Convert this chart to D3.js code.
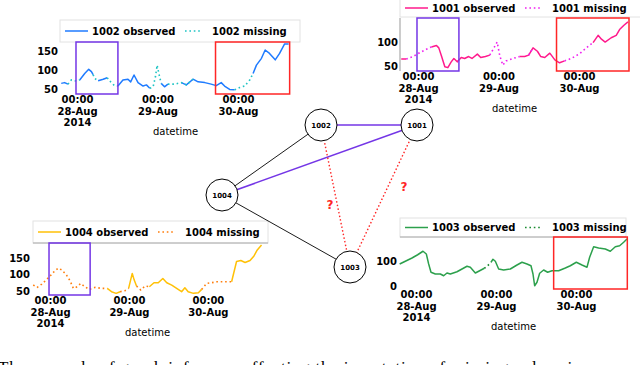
<!DOCTYPE html>
<html>
<head>
<meta charset="utf-8">
<script src="https://cdn.jsdelivr.net/npm/d3@7"></script>
<style>
  body { margin: 0; background: #fff; }
  svg { display: block; font-family: "DejaVu Sans", sans-serif; }
</style>
</head>
<body>
<div id="chart"></div>
<script>
// ---- data (hours since 28-Aug-2014 00:00) ----
var sensors = ["1002", "1001", "1004", "1003"];

var hours1002 = [-4.7,-3.7,-2.7,-1.7,-0.2,0.8,2.3,3.5,4.3,4.8,5.3,6.3,7.8,9.0,10.2,11.2,12.2,13.7,15.2,16,17,18.2,19.7,20.7,21.7,22.7,23.4,23.9,24.4,25.1,26.1,27.1,29.1,31.1,32.6,34.6,36.1,38.1,40,41.5,43,44,45.5,47,48.5,50,51.5,52.5,53.5,55,56.1,57.4,59.1,60.4,61.9,63.1];
var vals1002  = [65,67,63,74,71,74,91,102,96,88,78,72,76,80,67,59,58,74,76,69,87,67,58,61,52,56,83,113,91,65,56,63,63,67,61,76,69,67,63,59,67,58,49,48,54,58,74,91,113,131,153,144,127,144,169,169];
var miss1002  = [[-2.7,0.8],[4.8,6.3],[9.0,12.2],[21.7,25.1],[27.1,31.1],[32.6,34.6],[47,52.5]];

var hours1001 = [-5.0,-3.5,-1.5,0.5,2.5,4.0,5.5,6.2,7.0,8.0,8.9,9.9,10.7,11.7,12.9,13.9,15.1,16.1,17.7,18.7,20.1,21.4,22.4,23.6,24.4,25.3,26.3,28.3,30.3,31.8,33,34.3,35.6,36.6,37.8,39.3,40.8,42.2,43.7,45.7,48.2,50.2,52.2,53.7,54.7,55.8,57.6,59.1,60.1,61.4,62.6];
var vals1001  = [65,65,70,78,85,90,93,88,71,49,47,59,66,59,68,66,70,66,75,68,70,73,85,100,71,52,61,66,70,70,73,88,81,70,68,77,63,57,61,66,76,88,99,114,106,100,109,114,126,135,142];
var miss1001  = [[-3.5,4.0],[21.4,30.3],[33,34.3],[43.7,52.2]];

var hours1004 = [-5.1,-3.9,-2.5,-1.2,0,1.2,2.5,3.5,4.9,6.1,7.1,8.3,9.3,10.6,11.9,13.7,15.7,17.4,18.7,20.1,21.3,22.8,23.9,24.5,25,25.6,26.3,27.6,28.9,30.2,31.6,32.9,34.3,35.5,37,38.5,40,41,42,43.6,45.1,46.1,47.6,49.1,50.7,52.5,54.2,55.2,56.7,58,59.3,60.8,62,63,64.3];
var vals1004  = [68,61,71,83,95,108,119,114,100,81,58,63,73,63,55,61,58,58,48,43,48,51,58,83,103,83,65,53,65,63,75,75,88,75,68,58,48,60,48,43,45,55,73,75,78,78,78,78,139,142,136,142,156,174,189];
var miss1004  = [[-5.1,17.4],[21.3,23.9],[26.3,30.2],[46.1,55.2]];

var hours1003 = [-4.9,-3.2,-1.2,0.5,2.1,3.1,3.8,4.5,5.8,7.3,8.3,9.3,10.3,12.3,13.8,15.3,16.3,17.8,19.1,20.5,21.5,22.5,23.1,23.8,24.8,26.3,28.3,30.3,31.8,33.3,34.5,35.1,35.6,36.3,37.1,38.3,39.5,40.8,42.8,44.8,46.3,48.1,49.8,51.3,52.1,53.3,54.8,56.8,58.3,59.8,61.1,62.3,63.3];
var vals1003  = [88,99,112,125,139,128,88,55,48,48,41,52,48,57,68,79,75,52,61,71,81,95,107,99,68,64,68,84,95,88,81,48,1,15,51,64,55,61,61,72,81,95,84,75,115,157,152,148,139,157,161,175,188];
var miss1003  = [[20.5,22.5]];

var yTicks = { "1002": [50,100,150], "1001": [50,100], "1004": [50,100,150], "1003": [0,100] };
var tickDays = ["2014-08-28", "2014-08-29", "2014-08-30"];
var purpleWindow = [-0.3, 12.2];
var redWindow = [41.3, 63.4];

var edges = [
  ["1002", "1001", "known"],
  ["1004", "1001", "known"],
  ["1004", "1002", "plain"],
  ["1004", "1003", "plain"],
  ["1002", "1003", "unknown"],
  ["1001", "1003", "unknown"]
];

// ---- colours & layout ----
var colors = {
  "1002": {obs: "#1f7bff", mis: "#1fc4c4"},
  "1001": {obs: "#ff1a8c", mis: "#f020f0"},
  "1004": {obs: "#ffc107", mis: "#ff7f0e"},
  "1003": {obs: "#2ca04c", mis: "#1a8a30"}
};
var purple = "#7436e6", red = "#ff2626";

var panels = {
  "1002": {left: 61, right: 290, top: 42, bottom: 94, x0: 77, pxh: 3.354, ydom: [37,174],
           legend: [60, 20, 240, 22], hours: hours1002, vals: vals1002, miss: miss1002, boxes: ["p","r"], spine: "none"},
  "1001": {left: 401, right: 628, top: 18, bottom: 71, x0: 418, pxh: 3.354, ydom: [40,150],
           legend: [400, -1, 241, 18], hours: hours1001, vals: vals1001, miss: miss1001, boxes: ["p","r"], spine: "left"},
  "1004": {left: 33, right: 262, top: 243, bottom: 295, x0: 50, pxh: 3.29, ydom: [38,195],
           legend: [33, 221, 235, 22], hours: hours1004, vals: vals1004, miss: miss1004, boxes: ["p"], spine: "top"},
  "1003": {left: 400, right: 627, top: 237, bottom: 289, x0: 416, pxh: 3.333, ydom: [-12,196],
           legend: [400, 218, 226, 19], hours: hours1003, vals: vals1003, miss: miss1003, boxes: ["r"], spine: "top"}
};

var nodePos = { "1002": [321,125], "1001": [417,125], "1004": [222,195], "1003": [350,267] };

var W = 640, H = 365;
var base = new Date(2014, 7, 28).getTime();
function hDate(h) { return new Date(base + h * 3600e3); }
var parseDay = d3.timeParse("%Y-%m-%d");

var svg = d3.select("#chart").append("svg")
  .attr("width", W).attr("height", H);

// ---- time series panels ----
sensors.forEach(function(id) {
  var p = panels[id];
  var x = d3.scaleTime()
    .domain([hDate((p.left - p.x0) / p.pxh), hDate((p.right - p.x0) / p.pxh)])
    .range([p.left, p.right]);
  var y = d3.scaleLinear().domain(p.ydom).range([p.bottom, p.top]);
  var g = svg.append("g");

  if (p.spine == "left") {
    g.append("line").attr("x1", p.left - 1).attr("x2", p.left - 1)
      .attr("y1", p.top).attr("y2", p.bottom).attr("stroke", "#999").attr("stroke-width", 1);
  }

  // legend box
  var lg = p.legend;
  g.append("rect").attr("x", lg[0]).attr("y", lg[1]).attr("width", lg[2]).attr("height", lg[3])
    .attr("fill", "#fff").attr("stroke", "#e2e2e2");
  if (p.spine == "top") {
    g.append("line").attr("x1", p.left).attr("x2", lg[0] + lg[2]).attr("y1", p.top).attr("y2", p.top)
      .attr("stroke", "#aaa");
  }
  var ly = lg[1] + lg[3] / 2;
  g.append("line").attr("x1", lg[0] + 5).attr("x2", lg[0] + 28).attr("y1", ly).attr("y2", ly)
    .attr("stroke", colors[id].obs).attr("stroke-width", 1.5);
  g.append("text").attr("x", lg[0] + 32).attr("y", ly + 3.5)
    .attr("font-size", 10).attr("font-weight", "bold").text(id + " observed");
  g.append("line").attr("x1", lg[0] + 125).attr("x2", lg[0] + 142).attr("y1", ly).attr("y2", ly)
    .attr("stroke", colors[id].mis).attr("stroke-width", 1.6).attr("stroke-dasharray", "1.6,2.8");
  g.append("text").attr("x", lg[0] + 152).attr("y", ly + 3.5)
    .attr("font-size", 10).attr("font-weight", "bold").text(id + " missing");

  // series
  var pts = p.hours.map(function(h, i) { return {h: h, v: p.vals[i]}; });
  function inside(h, strict) {
    return p.miss.some(function(m) { return strict ? (h > m[0] && h < m[1]) : (h >= m[0] && h <= m[1]); });
  }
  var line = d3.line().x(function(d) { return x(hDate(d.h)); }).y(function(d) { return y(d.v); });
  g.append("path").datum(pts)
    .attr("d", line.defined(function(d) { return !inside(d.h, true); }))
    .attr("fill", "none").attr("stroke", colors[id].obs).attr("stroke-width", 1.5)
    .attr("stroke-linejoin", "round");
  g.append("path").datum(pts)
    .attr("d", line.defined(function(d) { return inside(d.h, false); }))
    .attr("fill", "none").attr("stroke", colors[id].mis).attr("stroke-width", 1.6)
    .attr("stroke-dasharray", "1.6,2.8");

  // highlight windows
  p.boxes.forEach(function(b) {
    var w = b == "p" ? purpleWindow : redWindow;
    var x1 = Math.max(p.left, x(hDate(w[0]))), x2 = Math.min(p.right + 1, x(hDate(w[1])));
    g.append("rect").attr("x", x1).attr("y", p.top).attr("width", x2 - x1).attr("height", p.bottom - p.top)
      .attr("fill", "none").attr("stroke", b == "p" ? purple : red).attr("stroke-width", 1.5);
  });

  // axes
  var ya = g.append("g").attr("transform", "translate(" + p.left + ",0)")
    .call(d3.axisLeft(y).tickValues(yTicks[id]).tickSize(0).tickPadding(3));
  ya.select(".domain").remove();
  ya.selectAll("text").attr("font-size", 10).attr("font-weight", "bold")
    .attr("font-family", "DejaVu Sans").attr("fill", "#000");

  var days = tickDays.map(parseDay);
  var xa = g.append("g").attr("transform", "translate(0," + p.bottom + ")")
    .call(d3.axisBottom(x).tickValues(days).tickSize(0).tickPadding(0).tickFormat(""));
  xa.select(".domain").remove();
  xa.selectAll(".tick text").each(function(d, i) {
    var t = d3.select(this).attr("y", 0).attr("dy", null)
      .attr("font-size", 10).attr("font-weight", "bold").attr("font-family", "DejaVu Sans").attr("fill", "#000");
    var lines = [d3.timeFormat("%H:%M")(d), d3.timeFormat("%d-%b")(d)];
    if (i == 0) lines.push(d3.timeFormat("%Y")(d));
    lines.forEach(function(s, k) {
      t.append("tspan").attr("x", 0).attr("y", 9 + k * 11.5).text(s);
    });
  });
  g.append("text").attr("x", (p.left + p.right) / 2).attr("y", p.bottom + 41)
    .attr("text-anchor", "middle").attr("font-size", 10).text("datetime");
});

// ---- sensor graph ----
var eg = svg.append("g");
edges.forEach(function(e) {
  var a = nodePos[e[0]], b = nodePos[e[1]];
  var l = eg.append("line").attr("x1", a[0]).attr("y1", a[1]).attr("x2", b[0]).attr("y2", b[1]);
  if (e[2] == "known") l.attr("stroke", purple).attr("stroke-width", 1.6);
  else if (e[2] == "plain") l.attr("stroke", "#000").attr("stroke-width", 0.9);
  else l.attr("stroke", red).attr("stroke-width", 1.4).attr("stroke-dasharray", "1.5,2.2");
});
svg.append("text").attr("x", 330).attr("y", 209).attr("text-anchor", "middle")
  .attr("font-size", 12).attr("font-weight", "bold").attr("fill", red).text("?");
svg.append("text").attr("x", 404).attr("y", 191).attr("text-anchor", "middle")
  .attr("font-size", 12).attr("font-weight", "bold").attr("fill", red).text("?");

var ng = svg.selectAll(".node").data(sensors).enter().append("g")
  .attr("transform", function(d) { return "translate(" + nodePos[d][0] + "," + nodePos[d][1] + ")"; });
ng.append("circle").attr("r", 16).attr("fill", "#fff").attr("stroke", "#000").attr("stroke-width", 1);
ng.append("text").attr("text-anchor", "middle").attr("dy", 2.5)
  .attr("font-size", 7).attr("font-weight", "bold").text(function(d) { return d; });

// caption (cut off at the bottom edge, as in the source page)
svg.append("text").attr("x", -2).attr("y", 373)
  .attr("font-family", "Liberation Serif").attr("font-size", 17)
  .attr("textLength", 644)
  .text("The example of graph inference affecting the imputation of missing values in sensors");
</script>
</body>
</html>
